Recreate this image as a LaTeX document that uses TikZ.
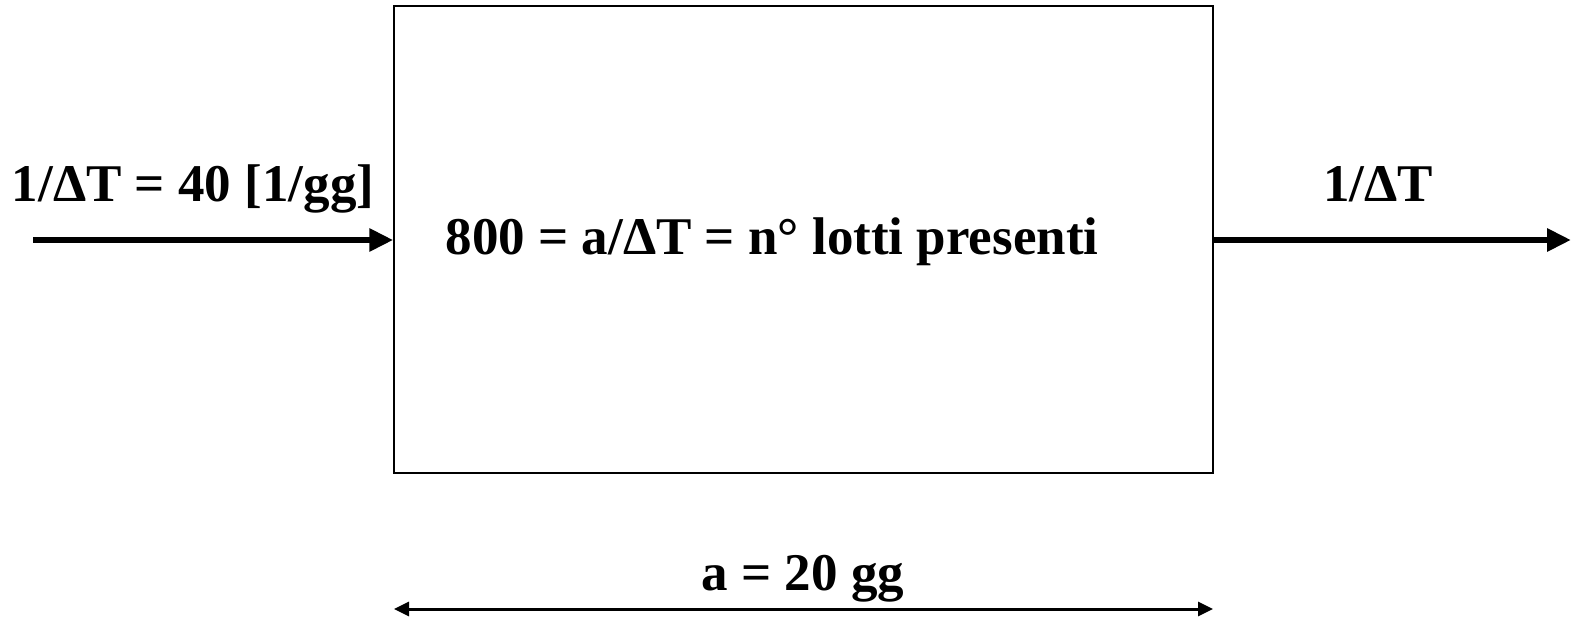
\documentclass[tikz,border=0pt]{standalone}
\usepackage{fontspec}
\setmainfont{Liberation Serif}
\usetikzlibrary{arrows.meta}
\tikzset{
  lbl/.style={font=\bfseries\fontsize{53}{60}\selectfont, anchor=base, inner sep=0pt},
  flow/.style={line width=6pt, -{Triangle[length=24pt,width=22pt]}},
  dim/.style={line width=3pt, {Triangle[length=15pt,width=14pt]}-{Triangle[length=15pt,width=14pt]}},
  stock/.style={draw, line width=1.5pt, minimum width=819pt, minimum height=467pt, inner sep=0pt}
}
\begin{document}
\begin{tikzpicture}[x=1pt,y=-1pt]
\useasboundingbox (0,0) rectangle (1571,617);
\node[stock] (box) at (803.5,239.5) {};
\coordinate (inS) at (33,240);
\coordinate (outE) at (1571,240);
\draw[flow] (inS) -- (box.west |- inS);
\draw[flow] (box.east |- outE) -- (outE);
\coordinate (dL) at (394,609);
\coordinate (dR) at (1213,609);
\draw[dim] (dL) -- (dR);
\node[lbl] (lin) at (193,202) {1/ΔT = 40 [1/gg]};
\node[lbl] (lout) at (1378,202) {1/ΔT};
\node[lbl] (lmid) at (772,255) {800 = a/ΔT = n° lotti presenti};
\node[lbl] (ldim) at (803,590) {a = 20 gg};
\end{tikzpicture}
\end{document}
